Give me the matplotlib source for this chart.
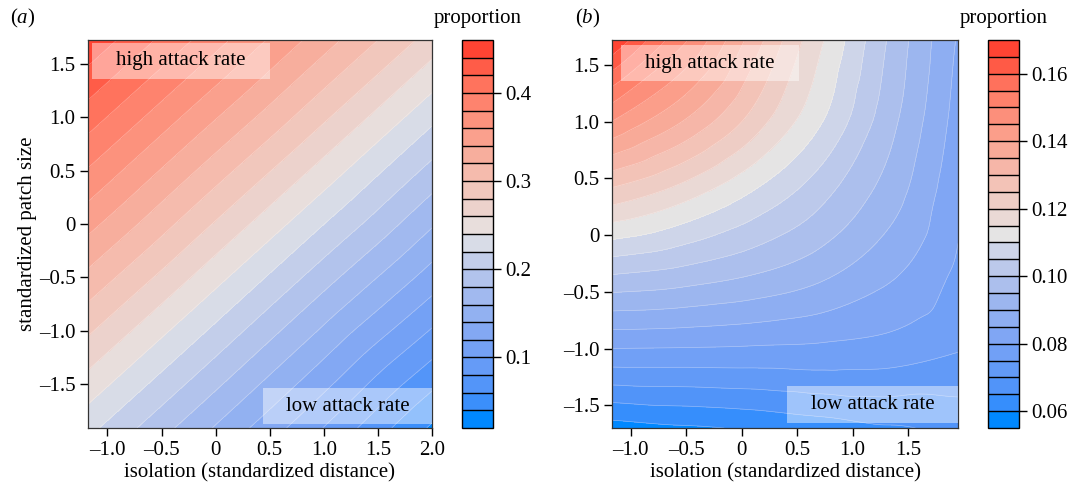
import numpy as np
import matplotlib
matplotlib.use('Agg')
import matplotlib.pyplot as plt
import matplotlib.tri as mtri
from matplotlib.colors import LinearSegmentedColormap
from matplotlib.patches import Rectangle

plt.rcParams['font.family'] = ['Liberation Serif', 'DejaVu Serif']
plt.rcParams['mathtext.fontset'] = 'custom'
plt.rcParams['mathtext.rm'] = 'Liberation Serif'
plt.rcParams['mathtext.it'] = 'Liberation Serif:italic'

# ---------------- data ----------------
# panel (a): proportion on a coarse grid (rows = patch size, cols = isolation)
iso_a = [-1.18, -0.12, 0.94, 2.0]
patch_a = [-1.91, -0.70, 0.51, 1.72]
prop_a = [
    [0.226, 0.165, 0.103, 0.037],
    [0.302, 0.241, 0.179, 0.118],
    [0.379, 0.317, 0.256, 0.194],
    [0.455, 0.394, 0.332, 0.271],
]
levels_a = [0.02, 0.04, 0.06, 0.08, 0.10, 0.12, 0.14, 0.16, 0.18, 0.20, 0.22, 0.24,
            0.26, 0.28, 0.30, 0.32, 0.34, 0.36, 0.38, 0.40, 0.42, 0.44, 0.46]
cbar_ticks_a = [0.1, 0.2, 0.3, 0.4]
xticks_a = [-1.0, -0.5, 0, 0.5, 1.0, 1.5, 2.0]
yticks_a = [-1.5, -1.0, -0.5, 0, 0.5, 1.0, 1.5]

# panel (b)
iso_b = [-1.17, -0.546, 0.078, 0.702, 1.326, 1.95]
patch_b = [-1.70, -1.016, -0.332, 0.352, 1.036, 1.72]
prop_b = [
    [0.0578, 0.0593, 0.0606, 0.0625, 0.0645, 0.0665],
    [0.0795, 0.0793, 0.0790, 0.0787, 0.0777, 0.0752],
    [0.1005, 0.0985, 0.0955, 0.0915, 0.0860, 0.0790],
    [0.1228, 0.1170, 0.1095, 0.1015, 0.0925, 0.0810],
    [0.1460, 0.1360, 0.1240, 0.1110, 0.0970, 0.0830],
    [0.1698, 0.1515, 0.1335, 0.1160, 0.0995, 0.0845],
]
levels_b = [0.055, 0.060, 0.065, 0.070, 0.075, 0.080, 0.085, 0.090, 0.095, 0.100,
            0.105, 0.110, 0.115, 0.120, 0.125, 0.130, 0.135, 0.140, 0.145, 0.150,
            0.155, 0.160, 0.165, 0.170]
cbar_ticks_b = [0.06, 0.08, 0.10, 0.12, 0.14, 0.16]
xticks_b = [-1.0, -0.5, 0, 0.5, 1.0, 1.5]
yticks_b = [-1.5, -1.0, -0.5, 0, 0.5, 1.0, 1.5]

xlim_a, ylim_a = (-1.18, 2.0), (-1.91, 1.725)
xlim_b, ylim_b = (-1.17, 1.95), (-1.70, 1.72)

# ---------------- style ----------------
FS = 15.0
ramp = LinearSegmentedColormap.from_list(
    'bgr', [(0.00, '#0088FF'), (0.05, '#3F8FFB'), (0.12, '#5E98F8'),
            (0.22, '#7EA5F4'), (0.35, '#A6BCEE'), (0.45, '#CCD3E9'),
            (0.50, '#E5E5E5'), (0.55, '#EAD8D3'), (0.65, '#F4BFB2'),
            (0.78, '#FB9C88'), (0.90, '#FF7660'), (1.00, '#FF4433')])

W, H = 1077, 490
fig = plt.figure(figsize=(W / 100, H / 100), dpi=100)


def px_axes(x0, y0, x1, y1):
    return fig.add_axes([x0 / W, 1 - y1 / H, (x1 - x0) / W, (y1 - y0) / H])


def fmt(v, nd):
    if v == 0:
        return '0'
    s = f'{abs(v):.{nd}f}'
    return ('\u2013' + s) if v < 0 else s


def panel(ax, cax, iso, patch, prop, levels, cticks, cnd, xt, yt, xlim, ylim,
          boxes):
    X, Y = np.meshgrid(iso, patch)
    Z = np.asarray(prop, float)
    tri = mtri.Triangulation(X.ravel(), Y.ravel())
    interp = mtri.CubicTriInterpolator(tri, Z.ravel(), kind='geom')
    refiner = mtri.UniformTriRefiner(tri)
    tri_r, z_r = refiner.refine_field(Z.ravel(), triinterpolator=interp, subdiv=5)
    z_r = np.clip(z_r, levels[0] + 1e-6, levels[-1] - 1e-6)
    n = len(levels) - 1
    cols = [ramp(i / (n - 1)) for i in range(n)]
    cs = ax.tricontourf(tri_r, z_r, levels=levels, colors=cols)
    ax.tricontour(tri_r, z_r, levels=levels[1:-1], colors='white',
                  linewidths=0.5, alpha=0.35)
    ax.set_xlim(*xlim)
    ax.set_ylim(*ylim)
    ax.set_xticks(xt)
    ax.set_xticklabels([fmt(v, 1) for v in xt])
    ax.set_yticks(yt)
    ax.set_yticklabels([fmt(v, 1) for v in yt])
    ax.tick_params(direction='out', length=6, width=1, labelsize=FS, pad=3)
    for s in ax.spines.values():
        s.set_linewidth(0.9)
        s.set_color('#333333')
    ax.set_xlabel('isolation (standardized distance)', fontsize=FS, labelpad=3)
    for (bx0, by0, bx1, by1, label) in boxes:
        ax.add_patch(Rectangle((bx0, by0), bx1 - bx0, by1 - by0,
                               transform=ax.transAxes, facecolor='white',
                               alpha=0.45, edgecolor='none', zorder=3))
        ax.text((bx0 + bx1) / 2, (by0 + by1) / 2, label, transform=ax.transAxes,
                ha='center', va='center', fontsize=FS, zorder=4)
    cb = fig.colorbar(cs, cax=cax, drawedges=True, ticks=cticks)
    cb.dividers.set_color('black')
    cb.dividers.set_linewidth(1.0)
    cb.outline.set_linewidth(1.0)
    cb.ax.set_yticklabels([f'{v:.{cnd}f}' for v in cticks])
    cb.ax.tick_params(direction='out', length=6, width=1, labelsize=FS, pad=3)
    return cs


ax_a = px_axes(88, 40, 432, 428)
cax_a = px_axes(462, 40, 493, 428)
ax_b = px_axes(612, 40, 958, 428)
cax_b = px_axes(988, 40, 1019, 428)

panel(ax_a, cax_a, iso_a, patch_a, prop_a, levels_a, cbar_ticks_a, 1,
      xticks_a, yticks_a, xlim_a, ylim_a,
      [(0.0116, 0.8995, 0.529, 0.9923, 'high attack rate'),
       (0.5087, 0.0103, 1.0, 0.1031, 'low attack rate')])
panel(ax_b, cax_b, iso_b, patch_b, prop_b, levels_b, cbar_ticks_b, 2,
      xticks_b, yticks_b, xlim_b, ylim_b,
      [(0.026, 0.8943, 0.5405, 0.9871, 'high attack rate'),
       (0.5058, 0.0129, 1.0, 0.1082, 'low attack rate')])

ax_a.set_ylabel('standardized patch size', fontsize=FS, labelpad=1)

fig.text(10 / W, 1 - 18 / H, r'($\it{a}$)', fontsize=FS, ha='left', va='center')
fig.text(575 / W, 1 - 18 / H, r'($\it{b}$)', fontsize=FS, ha='left', va='center')
fig.text(477.5 / W, 1 - 18 / H, 'proportion', fontsize=FS, ha='center', va='center')
fig.text(1003.5 / W, 1 - 18 / H, 'proportion', fontsize=FS, ha='center', va='center')

fig.savefig('out.png', dpi=100)
